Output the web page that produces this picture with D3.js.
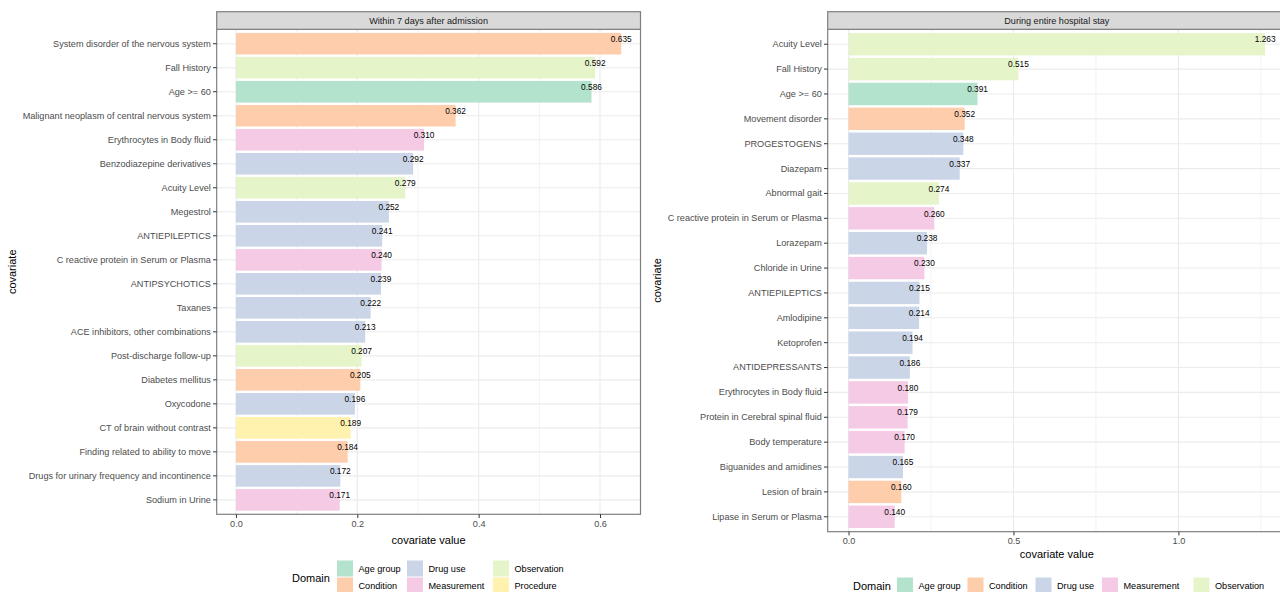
<!DOCTYPE html>
<html>
<head>
<meta charset="utf-8">
<script src="https://cdn.jsdelivr.net/npm/d3@7"></script>
<style>
  html, body { margin: 0; padding: 0; background: #fff; }
  svg { display: block; font-family: "Liberation Sans", Arial, sans-serif; }
</style>
</head>
<body>
<svg id="chart" width="1280" height="592"></svg>
<script>
// ---------- DATA ----------
const domains = ["Age group", "Condition", "Drug use", "Measurement", "Observation", "Procedure"];
const domainColors = ["#B3E2CD", "#FDCDAC", "#CBD5E8", "#F4CAE4", "#E6F5C9", "#FFF2AE"];

const leftTitle = "Within 7 days after admission";
const leftCovariates = [
  "System disorder of the nervous system", "Fall History", "Age >= 60",
  "Malignant neoplasm of central nervous system", "Erythrocytes in Body fluid",
  "Benzodiazepine derivatives", "Acuity Level", "Megestrol", "ANTIEPILEPTICS",
  "C reactive protein in Serum or Plasma", "ANTIPSYCHOTICS", "Taxanes",
  "ACE inhibitors, other combinations", "Post-discharge follow-up", "Diabetes mellitus",
  "Oxycodone", "CT of brain without contrast", "Finding related to ability to move",
  "Drugs for urinary frequency and incontinence", "Sodium in Urine"
];
const leftValues = [0.635, 0.592, 0.586, 0.362, 0.310, 0.292, 0.279, 0.252, 0.241, 0.240,
  0.239, 0.222, 0.213, 0.207, 0.205, 0.196, 0.189, 0.184, 0.172, 0.171];
const leftDomains = ["Condition", "Observation", "Age group", "Condition", "Measurement",
  "Drug use", "Observation", "Drug use", "Drug use", "Measurement", "Drug use", "Drug use",
  "Drug use", "Observation", "Condition", "Drug use", "Procedure", "Condition",
  "Drug use", "Measurement"];
const leftTicks = [0, 0.2, 0.4, 0.6];
const leftMinor = [0.1, 0.3, 0.5];

const rightTitle = "During entire hospital stay";
const rightCovariates = [
  "Acuity Level", "Fall History", "Age >= 60", "Movement disorder", "PROGESTOGENS",
  "Diazepam", "Abnormal gait", "C reactive protein in Serum or Plasma", "Lorazepam",
  "Chloride in Urine", "ANTIEPILEPTICS", "Amlodipine", "Ketoprofen", "ANTIDEPRESSANTS",
  "Erythrocytes in Body fluid", "Protein in Cerebral spinal fluid", "Body temperature",
  "Biguanides and amidines", "Lesion of brain", "Lipase in Serum or Plasma"
];
const rightValues = [1.263, 0.515, 0.391, 0.352, 0.348, 0.337, 0.274, 0.260, 0.238, 0.230,
  0.215, 0.214, 0.194, 0.186, 0.180, 0.179, 0.170, 0.165, 0.160, 0.140];
const rightDomains = ["Observation", "Observation", "Age group", "Condition", "Drug use",
  "Drug use", "Observation", "Measurement", "Drug use", "Measurement", "Drug use",
  "Drug use", "Drug use", "Drug use", "Measurement", "Measurement", "Measurement",
  "Drug use", "Condition", "Measurement"];
const rightTicks = [0, 0.5, 1.0];
const rightMinor = [0.25, 0.75, 1.25];

const leftLegend = ["Age group", "Condition", "Drug use", "Measurement", "Observation", "Procedure"];
const rightLegend = ["Age group", "Condition", "Drug use", "Measurement", "Observation"];

// ---------- DRAW ----------
const svg = d3.select("#chart");
const color = d3.scaleOrdinal().domain(domains).range(domainColors);
const FONT = "'Liberation Sans', Arial, sans-serif";

function panel(cfg) {
  const { x0, x1, stripTop, y0, y1, cats, vals, doms, ticks, minor, title, yTitleX, xTitleY } = cfg;
  const g = svg.append("g");
  const m = d3.max(vals);
  const x = d3.scaleLinear().domain([-0.05 * m, 1.05 * m]).range([x0, x1]);
  const y = d3.scaleBand().domain(cats).range([y0, y1]).paddingInner(0.1).paddingOuter(0.15);

  g.append("rect").attr("x", x0).attr("y", y0).attr("width", x1 - x0).attr("height", y1 - y0)
    .attr("fill", "#fff");

  g.selectAll(".minor").data(minor).enter().append("line")
    .attr("x1", d => x(d)).attr("x2", d => x(d)).attr("y1", y0).attr("y2", y1)
    .attr("stroke", "#ebebeb").attr("stroke-width", 0.6);
  g.selectAll(".majx").data(ticks).enter().append("line")
    .attr("x1", d => x(d)).attr("x2", d => x(d)).attr("y1", y0).attr("y2", y1)
    .attr("stroke", "#ebebeb").attr("stroke-width", 1.1);
  g.selectAll(".majy").data(cats).enter().append("line")
    .attr("x1", x0).attr("x2", x1)
    .attr("y1", d => y(d) + y.bandwidth() / 2).attr("y2", d => y(d) + y.bandwidth() / 2)
    .attr("stroke", "#ebebeb").attr("stroke-width", 1.1);

  g.selectAll(".bar").data(cats).enter().append("rect")
    .attr("x", x(0)).attr("y", d => y(d))
    .attr("width", (d, i) => x(vals[i]) - x(0))
    .attr("height", y.bandwidth())
    .attr("fill", (d, i) => color(doms[i]));

  g.selectAll(".val").data(cats).enter().append("text")
    .attr("x", (d, i) => x(vals[i]))
    .attr("y", d => y(d) + y.bandwidth() / 2 - 4)
    .attr("text-anchor", "middle").attr("dominant-baseline", "middle")
    .attr("font-size", 8.3).attr("fill", "#000")
    .text((d, i) => d3.format(".3f")(vals[i]));

  g.append("rect").attr("x", x0).attr("y", y0).attr("width", x1 - x0).attr("height", y1 - y0)
    .attr("fill", "none").attr("stroke", "#7f7f7f").attr("stroke-width", 1.2);

  g.append("rect").attr("x", x0).attr("y", stripTop).attr("width", x1 - x0).attr("height", y0 - stripTop)
    .attr("fill", "#d9d9d9").attr("stroke", "#7f7f7f").attr("stroke-width", 1.2);
  g.append("text").attr("x", (x0 + x1) / 2).attr("y", (stripTop + y0) / 2)
    .attr("text-anchor", "middle").attr("dominant-baseline", "central")
    .attr("font-size", 9.1).attr("fill", "#1a1a1a").text(title);

  const ya = g.append("g").attr("transform", `translate(${x0},0)`)
    .call(d3.axisLeft(y).tickSize(3.7).tickPadding(2.2));
  ya.select(".domain").remove();
  ya.selectAll("line").attr("stroke", "#333").attr("stroke-width", 1);
  ya.selectAll("text").attr("font-size", 9.15).attr("fill", "#4d4d4d").attr("font-family", FONT);

  const xa = g.append("g").attr("transform", `translate(0,${y1})`)
    .call(d3.axisBottom(x).tickValues(ticks).tickFormat(d3.format(".1f")).tickSize(3.7).tickPadding(2.2));
  xa.select(".domain").remove();
  xa.selectAll("line").attr("stroke", "#333").attr("stroke-width", 1);
  xa.selectAll("text").attr("font-size", 9.15).attr("fill", "#4d4d4d").attr("font-family", FONT);

  g.append("text").attr("x", (x0 + x1) / 2).attr("y", xTitleY)
    .attr("text-anchor", "middle").attr("dominant-baseline", "central")
    .attr("font-size", 11).attr("fill", "#000").text("covariate value");
  g.append("text")
    .attr("transform", `translate(${yTitleX},${(y0 + y1) / 2}) rotate(-90)`)
    .attr("text-anchor", "middle").attr("dominant-baseline", "central")
    .attr("font-size", 11).attr("fill", "#000").text("covariate");
}

panel({ x0: 216.7, x1: 640.5, stripTop: 11.7, y0: 29.3, y1: 514.3,
  cats: leftCovariates, vals: leftValues, doms: leftDomains, ticks: leftTicks, minor: leftMinor,
  title: leftTitle, yTitleX: 12, xTitleY: 540 });
panel({ x0: 827.7, x1: 1286, stripTop: 11.7, y0: 29.3, y1: 531.7,
  cats: rightCovariates, vals: rightValues, doms: rightDomains, ticks: rightTicks, minor: rightMinor,
  title: rightTitle, yTitleX: 657, xTitleY: 554 });

function legend(items, titleX, titleY, keyPos) {
  const g = svg.append("g");
  g.append("text").attr("x", titleX).attr("y", titleY)
    .attr("dominant-baseline", "central").attr("font-size", 11).attr("fill", "#000").text("Domain");
  items.forEach((d, i) => {
    const p = keyPos[i];
    g.append("rect").attr("x", p[0] + 0.5).attr("y", p[1] + 0.5).attr("width", 16).attr("height", 16)
      .attr("fill", color(d));
    g.append("text").attr("x", p[0] + 22).attr("y", p[1] + 8.5)
      .attr("dominant-baseline", "central").attr("font-size", 9.15).attr("fill", "#000").text(d);
  });
}
legend(leftLegend, 292, 577.5,
  [[336.5, 560], [336.5, 577], [406.5, 560], [406.5, 577], [492.5, 560], [492.5, 577]]);
legend(rightLegend, 853, 585.5,
  [[896.5, 577], [967, 577], [1035, 577], [1101.5, 577], [1193, 577]]);
</script>
</body>
</html>
